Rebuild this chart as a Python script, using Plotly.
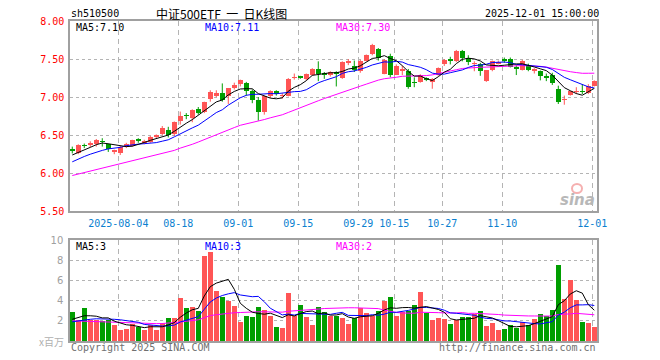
import plotly.graph_objects as go
import pandas as pd

# ---------------- data ----------------
dates_tick = ["2025-08-04", "08-18", "09-01", "09-15", "09-29", "10-15", "10-27", "11-10", "12-01"]
tick_index = [8, 18, 28, 38, 48, 54, 62, 72, 87]

open_ = [6.31, 6.27, 6.365, 6.37, 6.39, 6.42, 6.38, 6.285, 6.27, 6.35,
         6.36, 6.435, 6.40, 6.41, 6.47, 6.52, 6.57, 6.52, 6.69, 6.76,
         6.72, 6.85, 6.80, 6.975, 7.02, 7.06, 7.02, 7.12, 7.17, 7.19,
         7.075, 6.965, 6.80, 7.02, 7.075, 7.015, 7.02, 7.255, 7.265, 7.24,
         7.29, 7.37, 7.32, 7.29, 7.33, 7.25, 7.455, 7.41, 7.34, 7.48,
         7.57, 7.635, 7.31, 7.535, 7.295, 7.355, 7.34, 7.195, 7.205, 7.24,
         7.205, 7.295, 7.44, 7.485, 7.47, 7.61, 7.52, 7.44, 7.43, 7.21,
         7.35, 7.445, 7.49, 7.50, 7.385, 7.36, 7.42, 7.355, 7.34, 7.265,
         7.29, 7.105, 6.965, 7.03, 7.07, 7.075, 7.055, 7.145]
high = [6.35, 6.38, 6.39, 6.42, 6.45, 6.46, 6.39, 6.31, 6.36, 6.40,
        6.44, 6.46, 6.44, 6.49, 6.51, 6.62, 6.61, 6.68, 6.81, 6.79,
        6.84, 6.87, 6.94, 7.09, 7.09, 7.18, 7.12, 7.19, 7.23, 7.20,
        7.10, 7.00, 7.02, 7.09, 7.09, 7.05, 7.25, 7.31, 7.28, 7.31,
        7.38, 7.47, 7.33, 7.34, 7.34, 7.47, 7.50, 7.48, 7.49, 7.56,
        7.70, 7.645, 7.50, 7.57, 7.43, 7.41, 7.37, 7.26, 7.30, 7.26,
        7.25, 7.39, 7.50, 7.53, 7.62, 7.62, 7.55, 7.47, 7.45, 7.35,
        7.48, 7.48, 7.52, 7.52, 7.42, 7.49, 7.44, 7.38, 7.35, 7.31,
        7.32, 7.15, 7.02, 7.08, 7.13, 7.17, 7.17, 7.22]
low = [6.26, 6.25, 6.33, 6.34, 6.35, 6.35, 6.28, 6.25, 6.24, 6.33,
       6.35, 6.40, 6.38, 6.40, 6.46, 6.50, 6.47, 6.49, 6.64, 6.71,
       6.67, 6.77, 6.79, 6.94, 7.00, 6.94, 6.91, 7.10, 7.14, 7.02,
       6.92, 6.69, 6.77, 6.99, 7.02, 6.98, 7.01, 7.23, 7.24, 7.22,
       7.28, 7.21, 7.24, 7.27, 7.14, 7.24, 7.42, 7.33, 7.32, 7.47,
       7.55, 7.48, 7.30, 7.26, 7.29, 7.29, 7.11, 7.13, 7.19, 7.21,
       7.11, 7.28, 7.41, 7.43, 7.46, 7.47, 7.42, 7.34, 7.28, 7.20,
       7.34, 7.43, 7.45, 7.39, 7.29, 7.35, 7.34, 7.31, 7.22, 7.21,
       7.16, 6.91, 6.90, 7.02, 7.04, 7.04, 7.04, 7.14]
close = [6.305, 6.37, 6.36, 6.40, 6.44, 6.415, 6.32, 6.29, 6.34, 6.385,
         6.44, 6.43, 6.425, 6.48, 6.50, 6.60, 6.505, 6.67, 6.755, 6.755,
         6.835, 6.79, 6.93, 7.07, 7.06, 6.965, 7.118, 7.16, 7.23, 7.08,
         6.96, 6.80, 7.01, 7.085, 7.035, 7.02, 7.24, 7.26, 7.26, 7.30,
         7.37, 7.30, 7.30, 7.33, 7.30, 7.455, 7.46, 7.36, 7.48, 7.55,
         7.69, 7.515, 7.49, 7.29, 7.41, 7.36, 7.13, 7.19, 7.295, 7.235,
         7.24, 7.38, 7.49, 7.48, 7.61, 7.52, 7.456, 7.445, 7.345, 7.35,
         7.47, 7.45, 7.48, 7.40, 7.38, 7.48, 7.36, 7.36, 7.28, 7.26,
         7.18, 6.935, 6.97, 7.075, 7.075, 7.07, 7.145, 7.21]
volume = [2.83, 2.07, 3.23, 2.07, 2.07, 2.0, 2.07, 1.6, 1.13, 1.23,
          1.73, 1.4, 1.13, 1.57, 1.13, 1.8, 2.3, 2.3, 4.23, 3.23,
          3.4, 3.0, 8.43, 8.83, 5.0, 4.33, 3.93, 3.5, 1.93, 2.5,
          2.4, 3.33, 3.1, 2.43, 1.4, 1.33, 4.73, 2.5, 3.6, 2.4,
          1.6, 3.4, 2.9, 2.5, 2.5, 2.23, 1.73, 2.27, 3.27, 2.73,
          2.5, 2.93, 3.93, 4.33, 2.5, 2.83, 3.0, 3.6, 4.9, 2.73,
          2.1, 2.3, 2.2, 1.7, 2.1, 2.4, 2.4, 2.67, 3.0, 1.5,
          1.83, 1.1, 1.2, 1.57, 1.33, 1.93, 1.57, 2.2, 2.67, 2.5,
          3.1, 7.5, 4.17, 6.0, 4.1, 1.93, 1.8, 1.4]

# moving-average values before a full window is visible
ma5_head = [6.24, 6.27, 6.30, 6.34]
ma10_head = [6.15, 6.19, 6.22, 6.25, 6.28, 6.30, 6.32, 6.33, 6.34]
ma30_head = [5.97, 5.99, 6.01, 6.03, 6.05, 6.07, 6.09, 6.11, 6.12, 6.14,
             6.16, 6.18, 6.20, 6.22, 6.24, 6.26, 6.28, 6.30, 6.33, 6.35,
             6.38, 6.41, 6.44, 6.48, 6.51, 6.54, 6.57, 6.60, 6.63]
vma5_head = [2.15, 2.3, 2.5, 2.5]
vma10_head = [1.9, 2.0, 2.1, 2.15, 2.2, 2.2, 2.2, 2.15, 2.1]
vma30_head = [2.0, 1.98, 1.96, 1.94, 1.92, 1.9, 1.86, 1.82, 1.78, 1.75,
              1.73, 1.72, 1.72, 1.72, 1.72, 1.73, 1.76, 1.8, 1.88, 1.95,
              2.05, 2.1, 2.3, 2.52, 2.6, 2.68, 2.74, 2.8, 2.82]

legend_main = ["MA5:7.10", "MA10:7.11", "MA30:7.30"]
legend_vol = ["MA5:3", "MA10:3", "MA30:2"]
y_ticks = [5.5, 6.0, 6.5, 7.0, 7.5, 8.0]
vol_ticks = [2, 4, 6, 8, 10]

# ---------------- derived ----------------
n = len(close)
idx = list(range(n))


def moving(values, w, head):
    s = pd.Series(values).rolling(w).mean().tolist()
    return head + s[len(head):]


ma5 = moving(close, 5, ma5_head)
ma10 = moving(close, 10, ma10_head)
ma30 = moving(close, 30, ma30_head)
vma5 = moving(volume, 5, vma5_head)
vma10 = moving(volume, 10, vma10_head)
vma30 = moving(volume, 30, vma30_head)

RED = "#ff5555"
GREEN = "#009e00"
up = [c >= o for o, c in zip(open_, close)]
colors = [RED if u else GREEN for u in up]
body_base = [min(o, c) for o, c in zip(open_, close)]
body_h = [max(abs(c - o), 0.008) for o, c in zip(open_, close)]

MONO = "DejaVu Sans Mono"

fig = go.Figure()

# wicks
for flag, col in ((True, RED), (False, GREEN)):
    xs, ys = [], []
    for i in idx:
        if up[i] == flag:
            xs += [i, i, None]
            ys += [low[i], high[i], None]
    fig.add_trace(go.Scatter(x=xs, y=ys, mode="lines", line=dict(color=col, width=1),
                             hoverinfo="skip", xaxis="x", yaxis="y"))

# bodies
fig.add_trace(go.Bar(x=idx, y=body_h, base=body_base, width=0.8,
                     marker=dict(color=colors, line=dict(width=0)),
                     xaxis="x", yaxis="y"))

# price MAs
for ys, col in ((ma30, "#ff00ff"), (ma10, "#0000ff"), (ma5, "#000000")):
    fig.add_trace(go.Scatter(x=idx, y=ys, mode="lines", line=dict(color=col, width=1),
                             xaxis="x", yaxis="y"))

# volume bars
fig.add_trace(go.Bar(x=idx, y=volume, width=0.83,
                     marker=dict(color=colors, line=dict(width=0)),
                     xaxis="x2", yaxis="y2"))
for ys, col in ((vma30, "#ff00ff"), (vma10, "#0000ff"), (vma5, "#000000")):
    fig.add_trace(go.Scatter(x=idx, y=ys, mode="lines", line=dict(color=col, width=1),
                             xaxis="x2", yaxis="y2"))

# the page body has an 8px margin, so the figure is sized to fit the window
OFF = 8
W, H = 660 - OFF, 360 - OFF
PLOT_L, PLOT_R, PLOT_T, PLOT_B = 70, 597, 21, 341   # in window pixels
L, R, T, B = PLOT_L - OFF, W - (PLOT_R - OFF), PLOT_T - OFF, H - (PLOT_B - OFF)
pw, ph = PLOT_R - PLOT_L, PLOT_B - PLOT_T


def px(x):
    return (x - PLOT_L) / pw


def py(y):
    return (PLOT_B - y) / ph


tickpos = [t - 0.33 for t in tick_index]
xr = [-0.38, 87.45]
frame = "#a0a0a0"

common_x = dict(range=xr, tickvals=tickpos, showgrid=True, gridcolor="#b4b4b4",
                griddash="5px,4px", gridwidth=1, zeroline=False, showline=True,
                linecolor=frame, linewidth=1.5, mirror=True, ticks="")

fig.update_layout(
    width=W, height=H, margin=dict(l=L, r=R, t=T, b=B, autoexpand=False),
    paper_bgcolor="white", plot_bgcolor="white", showlegend=False, bargap=0,
    xaxis=dict(**common_x, ticktext=dates_tick, anchor="y",
               tickfont=dict(family=MONO, size=10, color="#0a7fd0"),
               ticklabelstandoff=2),
    yaxis=dict(domain=[py(211.3), 1.0], range=[5.5, 8.0], tickvals=y_ticks,
               ticktext=[f"{v:.2f}" for v in y_ticks],
               tickfont=dict(family=MONO, size=10, color="#ff0000"),
               showgrid=True, gridcolor="#b4b4b4", griddash="dot", zeroline=False,
               showline=True, linecolor=frame, linewidth=1.5, mirror=True, ticks="",
               ticklabelstandoff=2),
    xaxis2=dict(**common_x, anchor="y2", showticklabels=False),
    yaxis2=dict(domain=[0.0, py(240)], range=[0, 10], tickvals=vol_ticks,
                ticktext=[str(v) for v in vol_ticks],
                tickfont=dict(family="DejaVu Sans", size=10, color="#a0a0a0"),
                showgrid=True, gridcolor="#b4b4b4", griddash="dot", zeroline=False,
                showline=True, linecolor=frame, linewidth=1.5, mirror=True, ticks="",
                ticklabelstandoff=3),
)


def note(text, x, y, color="#000000", size=10, family=MONO, xanchor="left", **kw):
    fig.add_annotation(text=text, x=px(x), y=py(y), xref="paper", yref="paper",
                       xanchor=xanchor, yanchor="middle", showarrow=False,
                       font=dict(family=family, size=size, color=color), **kw)


note("sh510500", 69, 14)
note("中证500ETF&nbsp;&nbsp;一&nbsp;&nbsp;日K线图", 221, 14, size=12,
     family="Noto Sans CJK SC", xanchor="center")
note("2025-12-01 15:00:00", 601, 14, xanchor="right")
note(legend_main[0], 74, 28)
note(legend_main[1], 203, 28, color="#0000ff")
note(legend_main[2], 334, 28, color="#ff00ff")
note(legend_vol[0], 74, 246)
note(legend_vol[1], 203, 246, color="#0000ff")
note(legend_vol[2], 334, 246, color="#ff00ff")
note("x百万", 66, 341, color="#b0b0b0", size=10, family="Noto Sans CJK SC", xanchor="right")
note("Copyright 2025 SINA.COM", 69, 347, color="#707070")
note("http://finance.sina.com.cn", 598, 347, color="#707070", xanchor="right")
note("<b><i>sina</i></b>", 597, 200, color="#b8b8b8", size=15, family="DejaVu Sans", xanchor="right")

# small pink "eye" of the watermark logo
fig.add_shape(type="circle", xref="paper", yref="paper",
              x0=px(572), x1=px(582), y0=py(193), y1=py(184),
              line=dict(color="#f5b0b0", width=2), fillcolor="rgba(0,0,0,0)")

fig.write_html("out.html")
